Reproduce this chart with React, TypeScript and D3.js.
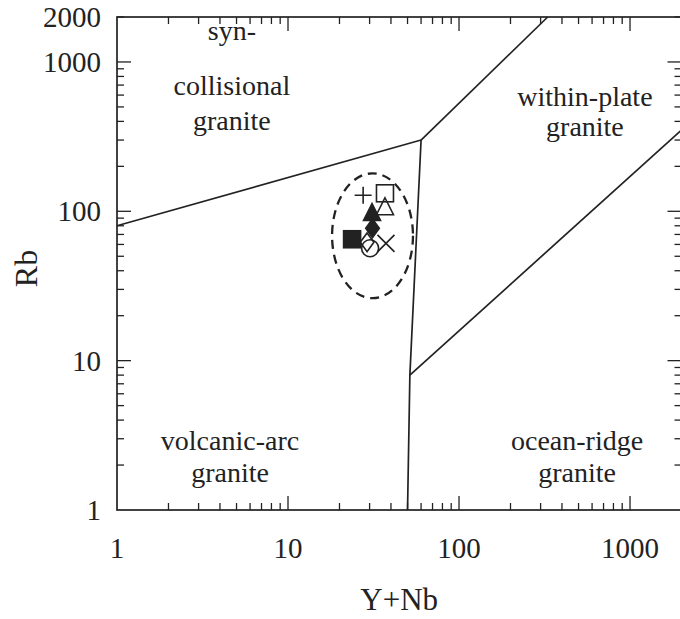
import React, { useRef, useEffect } from 'react';
import * as d3 from 'd3';

// boundary lines, [Y+Nb, Rb]
const synColVag = [[1, 80], [60, 300]];
const synColWpg = [[60, 300], [330, 2000]];
const vagOrg = [[60, 300], [51.6, 8], [50, 1]];
const wpgOrg = [[51.6, 8], [2000, 350]];

// tick values
const majorTicks = [10, 100, 1000];
const minorTicks = [2, 3, 4, 5, 6, 7, 8, 9, 20, 30, 40, 50, 60, 70, 80, 90, 200, 300, 400, 500, 600, 700, 800, 900, 2000];
const xTickLabels = [1, 10, 100, 1000];
const yTickLabels = [1, 10, 100, 1000, 2000];

// samples
const samples = [
  { name: 'plus', x: 27.5, y: 128 },
  { name: 'openSquare', x: 36.9, y: 132 },
  { name: 'openTriangle', x: 36.9, y: 106 },
  { name: 'filledTriangle', x: 31, y: 97 },
  { name: 'filledDiamond', x: 31.2, y: 77 },
  { name: 'filledSquare', x: 23.7, y: 65 },
  { name: 'openDiamond', x: 29, y: 62 },
  { name: 'openCircle', x: 30.2, y: 56.6 },
  { name: 'cross', x: 37.4, y: 61 },
];

// dashed field around samples: left/right and bottom/top
const fieldX = [18.1, 53.8];
const fieldY = [26.2, 179.6];

const regionLabels = [
  { lines: ['syn-', 'collisional', 'granite'], x: 4.7, y: [1400, 600, 350] },
  { lines: ['within-plate', 'granite'], x: 545, y: [510, 318] },
  { lines: ['volcanic-arc', 'granite'], x: 4.58, y: [2.52, 1.54] },
  { lines: ['ocean-ridge', 'granite'], x: 490, y: [2.52, 1.54] },
];

const W = 680;
const H = 619;
const ink = '#222';
const font = "'Liberation Serif', 'Times New Roman', 'DejaVu Serif', Times, serif";

const App = () => {
  const svgRef = useRef<SVGSVGElement>(null);

  useEffect(() => {
    const svg = d3.select(svgRef.current);
    svg.selectAll('*').remove();

    const x = d3.scaleLog().domain([1, 2000]).range([117, 681.5]);
    const y = d3.scaleLog().domain([1, 2000]).range([510, 17]);
    const [x0, x1] = x.range();
    const [y0, y1] = y.range();

    const g = svg.append('g').style('font-family', font);

    // frame
    g.append('rect')
      .attr('x', x0).attr('y', y1)
      .attr('width', x1 - x0).attr('height', y0 - y1)
      .attr('fill', 'none').attr('stroke', ink).attr('stroke-width', 1.7);

    const tickLen = (v: number) => (majorTicks.includes(v) ? 14 : 7);
    const allTicks = majorTicks.concat(minorTicks);

    // bottom and top ticks
    g.selectAll('.tb').data(allTicks).join('line')
      .attr('x1', d => x(d)).attr('x2', d => x(d))
      .attr('y1', y0).attr('y2', d => y0 - tickLen(d))
      .attr('stroke', ink).attr('stroke-width', 1.3);
    g.selectAll('.tt').data(allTicks).join('line')
      .attr('x1', d => x(d)).attr('x2', d => x(d))
      .attr('y1', y1).attr('y2', d => y1 + tickLen(d))
      .attr('stroke', ink).attr('stroke-width', 1.3);
    // left and right ticks
    g.selectAll('.tl').data(allTicks).join('line')
      .attr('y1', d => y(d)).attr('y2', d => y(d))
      .attr('x1', x0).attr('x2', d => x0 + tickLen(d))
      .attr('stroke', ink).attr('stroke-width', 1.3);
    g.selectAll('.tr').data(allTicks).join('line')
      .attr('y1', d => y(d)).attr('y2', d => y(d))
      .attr('x1', x1).attr('x2', d => x1 - tickLen(d))
      .attr('stroke', ink).attr('stroke-width', 1.3);

    // tick labels
    g.selectAll('.xl').data(xTickLabels).join('text')
      .attr('x', d => x(d)).attr('y', 558)
      .attr('text-anchor', 'middle')
      .attr('font-size', 29).attr('fill', ink)
      .text(d => d);
    g.selectAll('.yl').data(yTickLabels).join('text')
      .attr('x', 101).attr('y', d => y(d) + 10)
      .attr('text-anchor', 'end')
      .attr('font-size', 29).attr('fill', ink)
      .text(d => d);

    // axis titles
    g.append('text')
      .attr('x', (x0 + x1) / 2).attr('y', 610)
      .attr('text-anchor', 'middle')
      .attr('font-size', 31).attr('fill', ink)
      .text('Y+Nb');
    g.append('text')
      .attr('transform', `translate(37,${(y0 + y1) / 2 + 5}) rotate(-90)`)
      .attr('text-anchor', 'middle')
      .attr('font-size', 32).attr('fill', ink)
      .text('Rb');

    // boundaries
    const line = d3.line<number[]>().x(d => x(d[0])).y(d => y(d[1]));
    [synColVag, synColWpg, vagOrg, wpgOrg].forEach(pts => {
      g.append('path')
        .attr('d', line(pts))
        .attr('fill', 'none').attr('stroke', ink).attr('stroke-width', 1.7);
    });

    // region labels
    regionLabels.forEach(r => {
      r.lines.forEach((t, i) => {
        g.append('text')
          .attr('x', x(r.x)).attr('y', y(r.y[i]))
          .attr('text-anchor', 'middle')
          .attr('font-size', 28).attr('fill', ink)
          .text(t);
      });
    });

    // dashed field
    const ex0 = x(fieldX[0]), ex1 = x(fieldX[1]);
    const ey0 = y(fieldY[0]), ey1 = y(fieldY[1]);
    g.append('ellipse')
      .attr('cx', (ex0 + ex1) / 2).attr('cy', (ey0 + ey1) / 2)
      .attr('rx', (ex1 - ex0) / 2).attr('ry', (ey0 - ey1) / 2)
      .attr('fill', 'none').attr('stroke', ink).attr('stroke-width', 2.3)
      .attr('stroke-dasharray', '9 6');

    // sample symbols
    const s = 8.5;
    const sw = 1.6;
    const sym = g.selectAll('.pt').data(samples).join('g')
      .attr('transform', d => `translate(${x(d.x)},${y(d.y)})`);
    sym.each(function (d) {
      const el = d3.select(this);
      if (d.name === 'plus') {
        el.append('path').attr('d', `M${-s},0H${s}M0,${-s}V${s}`)
          .attr('stroke', ink).attr('stroke-width', sw).attr('fill', 'none');
      } else if (d.name === 'cross') {
        el.append('path').attr('d', `M${-s},${-s}L${s},${s}M${-s},${s}L${s},${-s}`)
          .attr('stroke', ink).attr('stroke-width', sw).attr('fill', 'none');
      } else if (d.name === 'openSquare' || d.name === 'filledSquare') {
        el.append('rect').attr('x', -s).attr('y', -s).attr('width', 2 * s).attr('height', 2 * s)
          .attr('stroke', ink).attr('stroke-width', sw)
          .attr('fill', d.name === 'filledSquare' ? ink : 'none');
      } else if (d.name === 'openTriangle' || d.name === 'filledTriangle') {
        el.append('path').attr('d', `M0,${-s * 1.15}L${s},${s * 0.85}L${-s},${s * 0.85}Z`)
          .attr('stroke', ink).attr('stroke-width', sw)
          .attr('fill', d.name === 'filledTriangle' ? ink : 'none');
      } else if (d.name === 'openDiamond' || d.name === 'filledDiamond') {
        el.append('path').attr('d', `M0,${-s * 1.1}L${s * 0.8},0L0,${s * 1.1}L${-s * 0.8},0Z`)
          .attr('stroke', ink).attr('stroke-width', sw)
          .attr('fill', d.name === 'filledDiamond' ? ink : 'none');
      } else if (d.name === 'openCircle') {
        el.append('circle').attr('r', s)
          .attr('stroke', ink).attr('stroke-width', sw).attr('fill', 'none');
      }
    });
  }, []);

  return (
    <svg
      ref={svgRef}
      width={W}
      height={H}
      style={{ position: 'absolute', left: 0, top: 0, background: '#fff' }}
    />
  );
};

export default App;
